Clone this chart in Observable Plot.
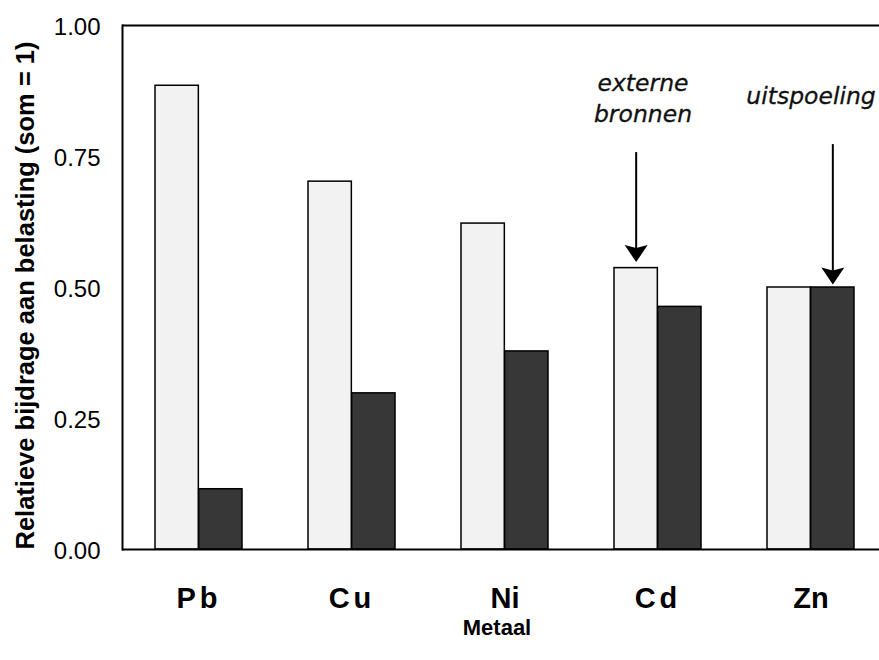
<!DOCTYPE html>
<html>
<head>
<meta charset="utf-8">
<script src="https://cdn.jsdelivr.net/npm/d3@7"></script>
<script src="https://cdn.jsdelivr.net/npm/@observablehq/plot@0.6"></script>
<style>
  html, body { margin: 0; padding: 0; background: #fff; }
  #chart { width: 879px; height: 660px; }
</style>
</head>
<body>
<div id="chart"></div>
<script>
// ---- data ----
const metalen = ["Pb", "Cu", "Ni", "Cd", "Zn"];
const externeBronnen = [0.885, 0.702, 0.622, 0.537, 0.500];
const uitspoeling = [0.115, 0.298, 0.378, 0.463, 0.500];
const yTicks = [0, 0.25, 0.5, 0.75, 1];
const yTitel = "Relatieve bijdrage aan belasting (som = 1)";
const xTitel = "Metaal";
// annotations: which metal, which series (0 = externe bronnen, 1 = uitspoeling), label
const annMetaal = ["Cd", "Zn"];
const annReeks = [0, 1];
const annTekst = ["externe\nbronnen", "uitspoeling"];
const annTekstY = [0.864, 0.869];
const annPijlStart = [0.746, 0.767];

// ---- layout ----
const W = 879, H = 660;
const mL = 122, mT = 25, mB = 111, mR = 0;
const xRange = [122, 888];
const padIn = 0.43, padOut = 0.215;
const step = (xRange[1] - xRange[0]) / (metalen.length - padIn + 2 * padOut);
const bw = step * (1 - padIn);

const rows = metalen.map((m, i) => ({metaal: m, ext: externeBronnen[i], uit: uitspoeling[i]}));

const pijlpunt = {
  draw(ctx) {
    ctx.moveTo(0, 0);
    ctx.lineTo(-11.5, -17);
    ctx.lineTo(0, -14);
    ctx.lineTo(11.5, -17);
    ctx.closePath();
  }
};

const annMarks = annMetaal.flatMap((m, i) => {
  const row = rows.find(r => r.metaal === m);
  const val = annReeks[i] === 0 ? row.ext : row.uit;
  const off = (annReeks[i] === 0 ? -1 : 1) * bw / 4;
  const d = [{metaal: m, v: val, start: annPijlStart[i], tekst: annTekst[i], ty: annTekstY[i]}];
  const tipDy = i === 0 ? -6 : -3;
  return [
    Plot.ruleX(d, {x: "metaal", y1: "start", y2: "v", dx: off, dy: tipDy, insetBottom: 10, stroke: "black", strokeWidth: 2}),
    Plot.dot(d, {x: "metaal", y: "v", dx: off, dy: tipDy, symbol: pijlpunt, r: 5, fill: "black", stroke: "none"}),
    Plot.text(d, {x: "metaal", y: "ty", text: "tekst", dx: i === 0 ? -15 : 0, lineAnchor: "middle", lineHeight: 1.3,
      fontSize: 23.5, fontStyle: "italic", fontFamily: "DejaVu Sans, Verdana, sans-serif", fill: "#111",
      stroke: "#111", strokeWidth: 0.3})
  ];
});

const chart = Plot.plot({
  width: W, height: H,
  marginLeft: mL, marginRight: mR, marginTop: mT, marginBottom: mB,
  style: {fontFamily: "'Liberation Sans', Arial, sans-serif", color: "black", background: "white", overflow: "visible"},
  x: {domain: metalen, range: xRange, paddingInner: padIn, paddingOuter: padOut, align: 0.5, axis: null},
  y: {domain: [0, 1], axis: null},
  marks: [
    Plot.barY(rows, {x: "metaal", y: "ext", insetRight: bw / 2, fill: "#f2f2f2", stroke: "black", strokeWidth: 1.5}),
    Plot.barY(rows, {x: "metaal", y: "uit", insetLeft: bw / 2, fill: "#373737", stroke: "black", strokeWidth: 1.5}),
    Plot.ruleY([0, 1], {stroke: "black", strokeWidth: 2}),
    Plot.frame({anchor: "left", stroke: "black", strokeWidth: 2}),
    Plot.axisY({ticks: yTicks, tickFormat: d3.format(".2f"), tickSize: 0, tickPadding: 22, fontSize: 24, dy: 2, label: null}),
    Plot.axisX({tickSize: 0, tickPadding: 38, fontSize: 29, fontWeight: "bold", label: null}),
    Plot.text([yTitel], {frameAnchor: "left", rotate: -90, dx: -97, dy: 8, lineAnchor: "middle", textAnchor: "middle",
      fontSize: 25.5, fontWeight: "bold", fill: "black"}),
    Plot.text([xTitel], {frameAnchor: "bottom", dx: -4, dy: 78, lineAnchor: "middle", textAnchor: "middle",
      fontSize: 22, fontWeight: "bold", fill: "black"}),
    ...annMarks
  ]
});

// letter-spaced metal labels as in the original
chart.querySelectorAll("text").forEach(t => {
  if (["Pb", "Cu", "Cd"].includes(t.textContent)) t.style.letterSpacing = "4px";
});

document.getElementById("chart").appendChild(chart);
</script>
</body>
</html>
